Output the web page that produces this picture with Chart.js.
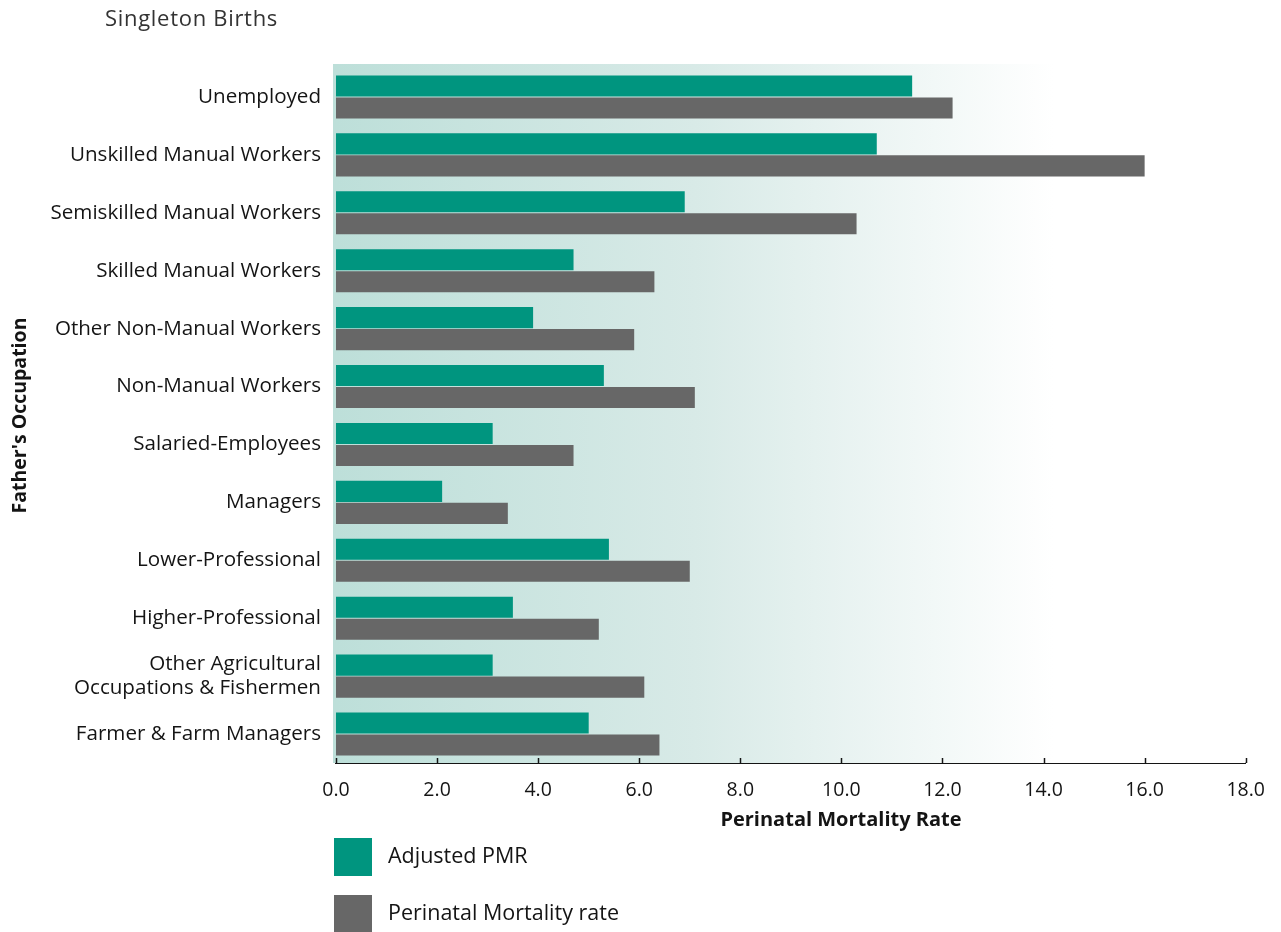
<!DOCTYPE html>
<html>
<head>
<meta charset="utf-8">
<script src="https://cdn.jsdelivr.net/npm/chart.js@4/dist/chart.umd.min.js"></script>
<style>
html,body{margin:0;padding:0;background:#ffffff;overflow:hidden;}
#wrap{width:1281px;height:932px;position:relative;}
canvas{display:block;}
</style>
</head>
<body>
<div id="wrap"><canvas id="c" width="1281" height="932"></canvas></div>
<script>
// ---- data ----
const chartTitle = 'Singleton Births';
const categories = [
  'Unemployed',
  'Unskilled Manual Workers',
  'Semiskilled Manual Workers',
  'Skilled Manual Workers',
  'Other Non-Manual Workers',
  'Non-Manual Workers',
  'Salaried-Employees',
  'Managers',
  'Lower-Professional',
  'Higher-Professional',
  ['Other Agricultural', 'Occupations & Fishermen'],
  'Farmer & Farm Managers'
];
const seriesNames = ['Adjusted PMR', 'Perinatal Mortality rate'];
const adjustedPMR   = [11.4, 10.7, 6.9, 4.7, 3.9, 5.3, 3.1, 2.1, 5.4, 3.5, 3.1, 5.0];
const perinatalRate = [12.2, 16.0, 10.3, 6.3, 5.9, 7.1, 4.7, 3.4, 7.0, 5.2, 6.1, 6.4];
const xTickValues = [0, 2, 4, 6, 8, 10, 12, 14, 16, 18];
const xAxisTitle = 'Perinatal Mortality Rate';
const yAxisTitle = "Father's Occupation";

// ---- styles ----
const TEAL = '#00957f';
const GRAY = '#676767';
const TEXT = '#141414';
const FONT = "'Open Sans', 'Noto Sans', sans-serif";

const backgroundPlugin = {
  id: 'bgGradient',
  beforeDatasetsDraw(chart) {
    const {ctx, chartArea, scales} = chart;
    const x0 = scales.x.getPixelForValue(0);
    const xEnd = scales.x.getPixelForValue(14.2);
    const g = ctx.createLinearGradient(x0, 0, xEnd, 0);
    g.addColorStop(0, '#bddfd9');
    g.addColorStop(0.5, '#d8eae7');
    g.addColorStop(1, '#ffffff');
    ctx.save();
    ctx.fillStyle = g;
    ctx.fillRect(chartArea.left - 3, chartArea.top - 4, chartArea.right - chartArea.left + 3, chartArea.bottom - chartArea.top + 4);
    ctx.restore();
  }
};

const decorPlugin = {
  id: 'decor',
  afterDraw(chart) {
    const {ctx, chartArea, scales} = chart;
    ctx.save();
    // inward ticks on x axis
    ctx.strokeStyle = TEXT;
    ctx.lineWidth = 1.5;
    xTickValues.forEach(v => {
      const px = Math.round(scales.x.getPixelForValue(v)) + 0.5;
      ctx.beginPath();
      ctx.moveTo(px, chartArea.bottom);
      ctx.lineTo(px, chartArea.bottom - 5);
      ctx.stroke();
    });
    // chart title
    ctx.fillStyle = '#333333';
    ctx.font = `22px ${FONT}`;
    ctx.textBaseline = 'middle';
    ctx.textAlign = 'left';
    try { ctx.letterSpacing = '0.7px'; } catch (e) {}
    ctx.fillText(chartTitle, 105, 20);
    try { ctx.letterSpacing = '0px'; } catch (e) {}
    // x axis title
    ctx.fillStyle = TEXT;
    ctx.font = `bold 20px ${FONT}`;
    ctx.textAlign = 'center';
    ctx.fillText(xAxisTitle, 841, 820);
    // legend
    ctx.textAlign = 'left';
    ctx.font = `21.5px ${FONT}`;
    const legendRows = [857, 914];
    chart.data.datasets.forEach((ds, i) => {
      const cy = legendRows[i];
      ctx.fillStyle = ds.backgroundColor;
      ctx.fillRect(334, cy - 19, 38, 38);
      ctx.fillStyle = TEXT;
      ctx.fillText(ds.label, 388, cy);
    });
    ctx.restore();
  }
};

new Chart(document.getElementById('c'), {
  type: 'bar',
  data: {
    labels: categories,
    datasets: [
      { label: seriesNames[0], data: adjustedPMR, backgroundColor: TEAL, borderWidth: 0 },
      { label: seriesNames[1], data: perinatalRate, backgroundColor: GRAY, borderWidth: 0 }
    ]
  },
  options: {
    indexAxis: 'y',
    responsive: false,
    animation: false,
    devicePixelRatio: 1,
    categoryPercentage: 0.76,
    barPercentage: 0.955,
    layout: { padding: { top: 68, right: 33, bottom: 101, left: 0 } },
    plugins: {
      legend: { display: false },
      title: { display: false },
      tooltip: { enabled: false }
    },
    scales: {
      x: {
        type: 'linear',
        min: 0,
        max: 18,
        afterBuildTicks(scale) { scale.ticks = xTickValues.map(v => ({ value: v })); },
        ticks: {
          color: TEXT,
          font: { family: FONT, size: 19.5 },
          padding: 16,
          callback: v => Number(v).toFixed(1)
        },
        grid: { display: false, drawTicks: false },
        border: { display: true, color: TEXT, width: 2 },
        afterFit(scale) { scale.height = 68; }
      },
      y: {
        ticks: {
          color: TEXT,
          font: { family: FONT, size: 20.6 },
          padding: 15
        },
        grid: { display: false, drawTicks: false },
        border: { display: true, color: TEXT, width: 2 },
        title: {
          display: true,
          text: yAxisTitle,
          color: TEXT,
          font: { family: FONT, size: 19.5, weight: 'bold' },
          padding: { top: 9, bottom: 0 }
        },
        afterFit(scale) { scale.width = 336; }
      }
    }
  },
  plugins: [backgroundPlugin, decorPlugin]
});
</script>
</body>
</html>
